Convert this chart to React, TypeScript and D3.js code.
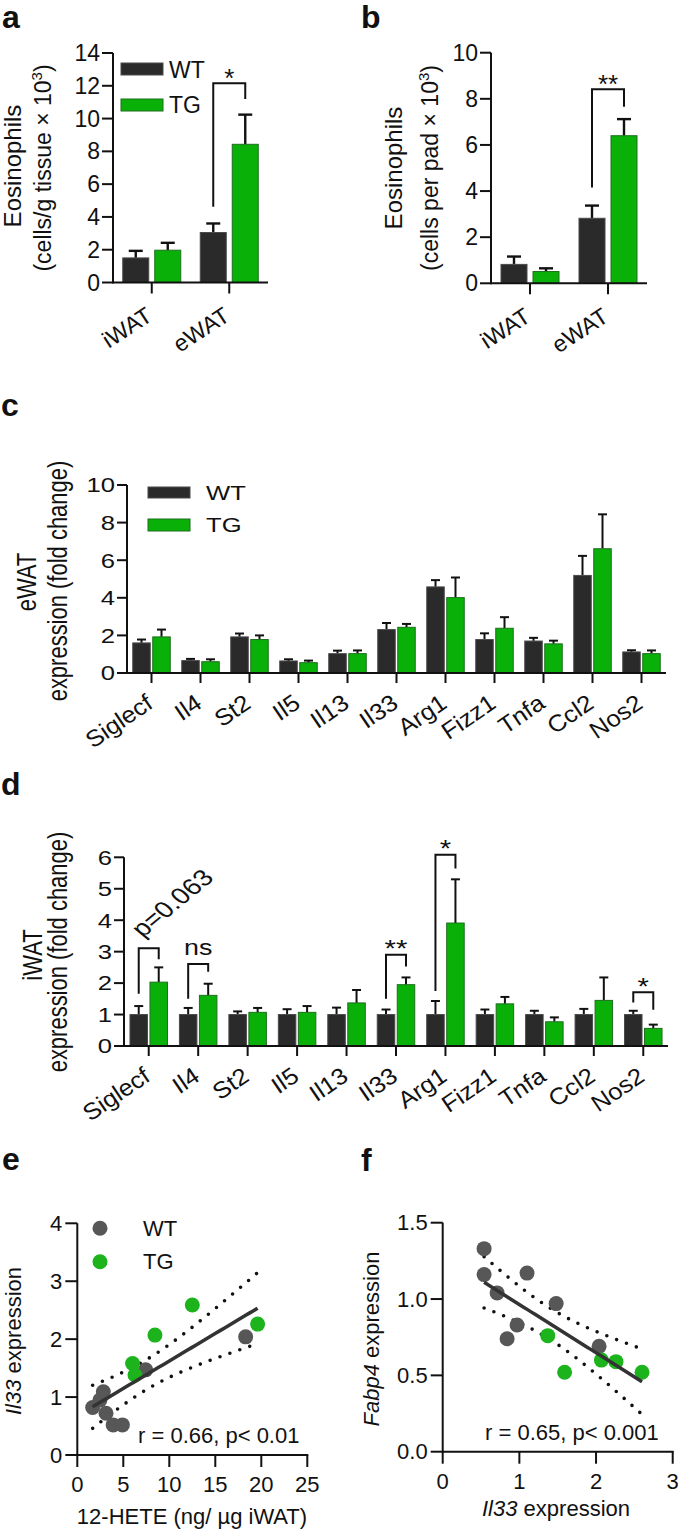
import React from "react";
import * as d3 from "d3";

// ---------- data ----------
const abGroups = ["iWAT", "eWAT"];
const aWT = [1.5, 3.05];
const aWTerr = [0.43, 0.55];
const aTG = [1.97, 8.43];
const aTGerr = [0.45, 1.81];
const aTicks = [0, 2, 4, 6, 8, 10, 12, 14];

const bWT = [0.82, 2.82];
const bWTerr = [0.34, 0.55];
const bTG = [0.51, 6.4];
const bTGerr = [0.14, 0.72];
const bTicks = [0, 2, 4, 6, 8, 10];

const genes = ["Siglecf", "Il4", "St2", "Il5", "Il13", "Il33", "Arg1", "Fizz1", "Tnfa", "Ccl2", "Nos2"];
const cWT = [1.6, 0.66, 1.92, 0.64, 1.03, 2.31, 4.58, 1.78, 1.7, 5.19, 1.12];
const cWTerr = [0.18, 0.09, 0.18, 0.09, 0.16, 0.35, 0.36, 0.33, 0.17, 1.04, 0.09];
const cTG = [1.92, 0.6, 1.78, 0.55, 1.03, 2.43, 4.01, 2.38, 1.55, 6.61, 1.03];
const cTGerr = [0.39, 0.13, 0.22, 0.11, 0.17, 0.18, 1.07, 0.59, 0.17, 1.83, 0.17];
const cTicks = [0, 2, 4, 6, 8, 10];

const dWT = [1, 1, 1, 1, 1, 1, 1, 1, 1, 1, 1];
const dWTerr = [0.27, 0.21, 0.1, 0.17, 0.22, 0.16, 0.43, 0.16, 0.12, 0.18, 0.12];
const dTG = [2.03, 1.61, 1.07, 1.07, 1.37, 1.95, 3.91, 1.34, 0.77, 1.45, 0.56];
const dTGerr = [0.47, 0.37, 0.14, 0.2, 0.41, 0.23, 1.39, 0.22, 0.14, 0.73, 0.12];
const dTicks = [0, 1, 2, 3, 4, 5, 6];

const aSig = [{ cat: "eWAT", label: "*", top: 12.15, left: 4.62, right: 11.2 }];
const bSig = [{ cat: "eWAT", label: "**", top: 8.41, left: 4.15, right: 7.66 }];
const dSig = [
  { cat: "Siglecf", label: "p=0.063", top: 3.11, left: 1.66, right: 2.76 },
  { cat: "Il4", label: "ns", top: 2.61, left: 1.5, right: 2.36 },
  { cat: "Il33", label: "**", top: 2.9, left: 1.5, right: 2.53 },
  { cat: "Arg1", label: "*", top: 6.08, left: 1.75, right: 5.64 },
  { cat: "Nos2", label: "*", top: 1.71, left: 1.38, right: 1.15 },
];

const eWTx = [1.67, 2.46, 2.83, 3.12, 3.9, 4.9, 7.43, 18.3];
const eWTy = [0.82, 0.95, 1.09, 0.72, 0.52, 0.52, 1.47, 2.04];
const eTGx = [6.01, 6.27, 8.44, 12.5, 19.6];
const eTGy = [1.58, 1.38, 2.07, 2.59, 2.26];
const eXTicks = [0, 5, 10, 15, 20, 25];
const eYTicks = [0, 1, 2, 3, 4];

const fWTx = [0.54, 0.54, 0.71, 1.1, 1.48, 0.97, 0.84, 2.04];
const fWTy = [1.33, 1.16, 1.04, 1.17, 0.97, 0.83, 0.74, 0.69];
const fTGx = [1.37, 1.59, 2.07, 2.26, 2.6];
const fTGy = [0.76, 0.52, 0.6, 0.59, 0.52];
const fXTicks = [0, 1, 2, 3];
const fYTicks = [0, 0.5, 1, 1.5];

const tCrit = 2.201; // t(0.975, df = 11)

// ---------- styles ----------
const FONT = "'Liberation Sans', Arial, Helvetica, sans-serif";
const INK = "#111";
const WT_FILL = "#2a2a2a";
const TG_FILL = "#08b008";
const TG_EDGE = "#1e6f1e";
const WT_DOT = "#575757";
const TG_DOT = "#1db31d";

function T({ x, y, sx = 1, rot = 0, size, anchor = "start", weight, italic, mid, children }: any) {
  return (
    <g transform={`translate(${x},${y})`}>
      <g transform={`scale(${sx},1)`}>
        <text
          transform={`rotate(${rot})`}
          x={0}
          y={0}
          fontSize={size}
          textAnchor={anchor}
          fontWeight={weight}
          fontStyle={italic ? "italic" : undefined}
          dy={mid ? "0.35em" : undefined}
          fill={INK}
          fontFamily={FONT}
        >
          {children}
        </text>
      </g>
    </g>
  );
}

function BarPanel(p: any) {
  const x = d3.scaleBand().domain(p.cats).range([p.x0, p.x1]).padding(0);
  const y = d3.scaleLinear().domain([0, p.yMax]).range([p.yZero, p.yTop]);
  const cx = (c: string) => (x(c) as number) + x.bandwidth() / 2;
  const wtX = (c: string) => cx(c) - p.gap / 2 - p.barW;
  const tgX = (c: string) => cx(c) + p.gap / 2;
  const lw = p.lw;
  const series = [
    { vals: p.wt, errs: p.wtErr, xf: wtX, fill: WT_FILL, edge: "#4a4a4a" },
    { vals: p.tg, errs: p.tgErr, xf: tgX, fill: TG_FILL, edge: TG_EDGE },
  ];
  return (
    <g>
      {series.map((s, si) =>
        p.cats.map((c: string, i: number) => {
          const bx = s.xf(c);
          const mxp = bx + p.barW / 2;
          const top = y(s.vals[i]);
          const et = y(s.vals[i] + s.errs[i]);
          return (
            <g key={`${si}-${c}`}>
              <line x1={mxp} x2={mxp} y1={top} y2={et} stroke={INK} strokeWidth={p.ew} />
              <line x1={mxp - p.capW / 2} x2={mxp + p.capW / 2} y1={et} y2={et} stroke={INK} strokeWidth={p.ew} />
              <rect x={bx} y={top} width={p.barW} height={p.yZero - top} fill={s.fill} stroke={s.edge} strokeWidth={1} />
            </g>
          );
        })
      )}
      {/* y axis */}
      <line x1={p.x0} x2={p.x0} y1={y(0) + lw / 2} y2={y(p.yMax)} stroke={INK} strokeWidth={lw} />
      {p.ticks.map((t: number) => (
        <g key={t}>
          <line x1={p.x0 - p.tickLen} x2={p.x0} y1={y(t)} y2={y(t)} stroke={INK} strokeWidth={lw} />
          <T x={p.x0 - p.tickLen - 2} y={y(t)} sx={p.sx} size={p.fs} anchor="end" mid>
            {t}
          </T>
        </g>
      ))}
      {/* x axis */}
      <line x1={p.x0} x2={p.x1} y1={p.yZero} y2={p.yZero} stroke={INK} strokeWidth={lw} />
      {p.cats.map((c: string) => (
        <g key={c}>
          <line x1={cx(c)} x2={cx(c)} y1={p.yZero} y2={p.yZero + p.tickLen} stroke={INK} strokeWidth={lw} />
          <T x={cx(c) + p.labDx} y={p.yZero + p.labDy} sx={p.sx} rot={p.labRot} size={p.labFs} anchor="end" italic={p.italic}>
            {c}
          </T>
        </g>
      ))}
      {/* significance brackets */}
      {(p.sig || []).map((s: any) => {
        const lx = wtX(s.cat) + p.barW / 2;
        const rx = tgX(s.cat) + p.barW / 2;
        const ty = y(s.top);
        const path = `M${lx},${y(s.left)}V${ty}H${rx}V${y(s.right)}`;
        let label;
        if (s.label.startsWith("p=")) {
          label = (
            <T x={lx + 4} y={ty - 10} sx={p.sx} rot={-45} size={p.fs + 2}>
              {s.label}
            </T>
          );
        } else if (s.label === "ns") {
          label = (
            <T x={(lx + rx) / 2} y={ty - 9} sx={p.sx} size={p.fs + 1} anchor="middle">
              {s.label}
            </T>
          );
        } else {
          label = (
            <T x={(lx + rx) / 2} y={ty - 8 + 0.43 * p.starFs} sx={p.sx} size={p.starFs} anchor="middle">
              {s.label}
            </T>
          );
        }
        return (
          <g key={s.cat}>
            <path d={path} fill="none" stroke={INK} strokeWidth={p.bw} />
            {label}
          </g>
        );
      })}
    </g>
  );
}

function fit(xs: number[], ys: number[]) {
  const n = xs.length;
  const mx = d3.mean(xs) as number;
  const my = d3.mean(ys) as number;
  let sxx = 0, sxy = 0, syy = 0;
  xs.forEach((xv, i) => {
    const dx = xv - mx, dy = ys[i] - my;
    sxx += dx * dx; sxy += dx * dy; syy += dy * dy;
  });
  const b = sxy / sxx;
  const a = my - b * mx;
  const s = Math.sqrt((syy - b * sxy) / (n - 2));
  return {
    yhat: (xv: number) => a + b * xv,
    half: (xv: number) => tCrit * s * Math.sqrt(1 / n + ((xv - mx) * (xv - mx)) / sxx),
  };
}

function ScatterPanel(p: any) {
  const x = d3.scaleLinear().domain([0, p.xMax]).range([p.x0, p.x1]);
  const y = d3.scaleLinear().domain([0, p.yMax]).range([p.yZero, p.yTop]);
  const ax = [...p.wx, ...p.gx];
  const ay = [...p.wy, ...p.gy];
  const f = fit(ax, ay);
  const [lo, hi] = d3.extent(ax) as [number, number];
  const xs = d3.range(0, 41).map((i) => lo + ((hi - lo) * i) / 40);
  const mainPath = d3.line<number>().x((v) => x(v)).y((v) => y(f.yhat(v)))(xs) as string;
  const upPath = d3.line<number>().x((v) => x(v)).y((v) => y(f.yhat(v) + f.half(v)))(xs) as string;
  const dnPath = d3.line<number>().x((v) => x(v)).y((v) => y(f.yhat(v) - f.half(v)))(xs) as string;
  const lw = 2;
  return (
    <g>
      <path d={upPath} fill="none" stroke={INK} strokeWidth={3.6} strokeDasharray="0 10.5" strokeLinecap="round" />
      <path d={dnPath} fill="none" stroke={INK} strokeWidth={3.6} strokeDasharray="0 10.5" strokeLinecap="round" />
      {p.wx.map((v: number, i: number) => (
        <circle key={`w${i}`} cx={x(v)} cy={y(p.wy[i])} r={7.5} fill={WT_DOT} />
      ))}
      {p.gx.map((v: number, i: number) => (
        <circle key={`g${i}`} cx={x(v)} cy={y(p.gy[i])} r={7.5} fill={TG_DOT} />
      ))}
      <path d={mainPath} fill="none" stroke="#333" strokeWidth={3.5} />
      {/* axes */}
      <line x1={p.x0} x2={p.x0} y1={y(0) + lw / 2} y2={y(p.yMax)} stroke={INK} strokeWidth={lw} />
      {p.yTicks.map((t: number) => (
        <g key={t}>
          <line x1={p.x0 - 12} x2={p.x0} y1={y(t)} y2={y(t)} stroke={INK} strokeWidth={lw} />
          <T x={p.x0 - 15} y={y(t)} size={22} anchor="end" mid>
            {p.fmtY(t)}
          </T>
        </g>
      ))}
      <line x1={p.x0} x2={p.x1 + lw / 2} y1={p.yZero} y2={p.yZero} stroke={INK} strokeWidth={lw} />
      {p.xTicks.map((t: number) => (
        <g key={t}>
          <line x1={x(t)} x2={x(t)} y1={p.yZero} y2={p.yZero + 12} stroke={INK} strokeWidth={lw} />
          <T x={x(t)} y={p.yZero + 37} size={22} anchor="middle">
            {t}
          </T>
        </g>
      ))}
      <T x={p.statX} y={p.yZero - 12} size={22}>
        {p.stat}
      </T>
    </g>
  );
}

function VTitle({ x, y, size, sx = 1, children }: any) {
  return (
    <T x={x} y={y} sx={sx} rot={-90} size={size} anchor="middle">
      {children}
    </T>
  );
}

export default function App() {
  const W = 678, H = 1532;
  const cdSx = 1.22;
  return (
    <svg width={W} height={H} viewBox={`0 0 ${W} ${H}`} style={{ position: "absolute", left: 0, top: 0, background: "#fff" }}>
      <rect width={W} height={H} fill="#fff" />
      {/* panel letters */}
      <T x={2} y={28} size={32} weight="bold">a</T>
      <T x={361} y={28} size={32} weight="bold">b</T>
      <T x={1} y={416} size={32} weight="bold">c</T>
      <T x={1} y={795} size={32} weight="bold">d</T>
      <T x={2} y={1170} size={32} weight="bold">e</T>
      <T x={361} y={1171} size={32} weight="bold">f</T>

      {/* ---- a ---- */}
      <BarPanel cats={abGroups} wt={aWT} wtErr={aWTerr} tg={aTG} tgErr={aTGerr}
        x0={113} x1={268} yZero={282.5} yTop={53} yMax={14} ticks={aTicks}
        barW={26} gap={6} capW={14} ew={2.4} lw={2} bw={2} fs={23} labFs={23} sx={1} tickLen={11}
        labRot={-33} labDx={2} labDy={37} italic={false} sig={aSig} starFs={26} />
      <VTitle x={21} y={166} size={24}>Eosinophils</VTitle>
      <VTitle x={51} y={168} size={23}>
        (cells/g tissue × 10<tspan fontSize={15} dy={-9}>3</tspan><tspan dy={9}>)</tspan>
      </VTitle>
      <rect x={121} y={63} width={42} height={12} fill={WT_FILL} stroke="#4a4a4a" />
      <rect x={121} y={99} width={42} height={12} fill={TG_FILL} stroke={TG_EDGE} />
      <T x={169} y={70} size={23} mid>WT</T>
      <T x={169} y={105} size={23} mid>TG</T>

      {/* ---- b ---- */}
      <BarPanel cats={abGroups} wt={bWT} wtErr={bWTerr} tg={bTG} tgErr={bTGerr}
        x0={491} x1={647} yZero={283.3} yTop={52.7} yMax={10} ticks={bTicks}
        barW={26} gap={6} capW={14} ew={2.4} lw={2} bw={2} fs={23} labFs={23} sx={1} tickLen={11}
        labRot={-33} labDx={2} labDy={37} italic={false} sig={bSig} starFs={26} />
      <VTitle x={402} y={168} size={24}>Eosinophils</VTitle>
      <VTitle x={438} y={168} size={23}>
        (cells per pad × 10<tspan fontSize={15} dy={-9}>3</tspan><tspan dy={9}>)</tspan>
      </VTitle>

      {/* ---- c ---- */}
      <BarPanel cats={genes} wt={cWT} wtErr={cWTerr} tg={cTG} tgErr={cTGerr}
        x0={127} x1={666} yZero={673} yTop={485} yMax={10} ticks={cTicks}
        barW={17.5} gap={2.5} capW={9} ew={2} lw={2} bw={2} fs={21} labFs={22} sx={cdSx} tickLen={10}
        labRot={-40} labDx={4} labDy={33} italic={true} sig={[]} starFs={24} />
      <VTitle x={36} y={582} size={22} sx={cdSx}>eWAT</VTitle>
      <VTitle x={67} y={581} size={22} sx={cdSx}>expression (fold change)</VTitle>
      <rect x={148} y={487} width={42} height={11} fill={WT_FILL} stroke="#4a4a4a" />
      <rect x={148} y={519} width={42} height={12} fill={TG_FILL} stroke={TG_EDGE} />
      <T x={206} y={493} size={21} sx={cdSx} mid>WT</T>
      <T x={206} y={525} size={21} sx={cdSx} mid>TG</T>

      {/* ---- d ---- */}
      <BarPanel cats={genes} wt={dWT} wtErr={dWTerr} tg={dTG} tgErr={dTGerr}
        x0={124} x1={668} yZero={1046} yTop={857.3} yMax={6} ticks={dTicks}
        barW={17.5} gap={2.5} capW={9} ew={2} lw={2} bw={2} fs={21} labFs={22} sx={cdSx} tickLen={10}
        labRot={-40} labDx={4} labDy={33} italic={true} sig={dSig} starFs={24} />
      <VTitle x={42} y={955} size={22} sx={cdSx}>iWAT</VTitle>
      <VTitle x={67} y={952} size={22} sx={cdSx}>expression (fold change)</VTitle>

      {/* ---- e ---- */}
      <ScatterPanel wx={eWTx} wy={eWTy} gx={eTGx} gy={eTGy}
        x0={77.3} x1={307.3} yZero={1455} yTop={1223.3} xMax={25} yMax={4}
        xTicks={eXTicks} yTicks={eYTicks} fmtY={(t: number) => String(t)}
        stat="r = 0.66, p< 0.01" statX={138} />
      <circle cx={100} cy={1228.3} r={7.5} fill={WT_DOT} />
      <circle cx={100} cy={1261.7} r={7.5} fill={TG_DOT} />
      <T x={143} y={1228.3} size={22} mid>WT</T>
      <T x={143} y={1261.7} size={22} mid>TG</T>
      <T x={21} y={1341} rot={-90} size={22} anchor="middle">
        <tspan fontStyle="italic">Il33</tspan> expression
      </T>
      <T x={192} y={1524} size={22} anchor="middle">12-HETE (ng/ µg iWAT)</T>

      {/* ---- f ---- */}
      <ScatterPanel wx={fWTx} wy={fWTy} gx={fTGx} gy={fTGy}
        x0={442.7} x1={672.7} yZero={1451.7} yTop={1222.7} xMax={3} yMax={1.5}
        xTicks={fXTicks} yTicks={fYTicks} fmtY={(t: number) => t.toFixed(1)}
        stat="r = 0.65, p< 0.001" statX={485} />
      <T x={379} y={1339} rot={-90} size={22} anchor="middle">
        <tspan fontStyle="italic">Fabp4</tspan> expression
      </T>
      <T x={556} y={1516} size={22} anchor="middle">
        <tspan fontStyle="italic">Il33</tspan> expression
      </T>
    </svg>
  );
}
